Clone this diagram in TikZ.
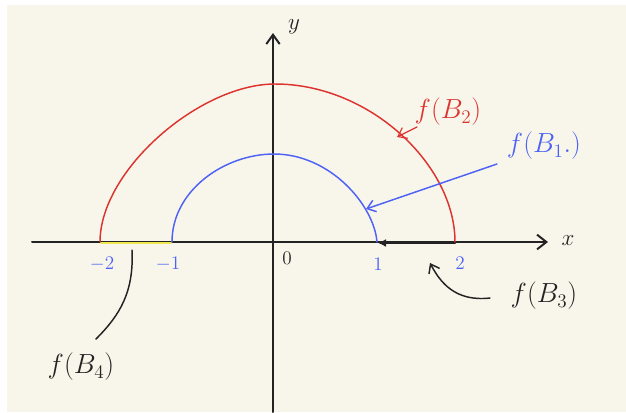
\documentclass[tikz,border=0pt]{standalone}
\usetikzlibrary{arrows.meta}
\definecolor{bg}{RGB}{248,246,235}
\definecolor{pen}{RGB}{35,35,35}
\definecolor{redpen}{RGB}{222,52,48}
\definecolor{bluepen}{RGB}{78,98,245}
\definecolor{yel}{RGB}{240,232,80}
\begin{document}
\begin{tikzpicture}[x=0.75pt,y=-0.75pt, line cap=round, line join=round,
  axis/.style={draw=pen, line width=1.5pt},
  curve/.style={line width=1.1pt},
  barb/.style={-{Straight Barb[length=6pt,width=9pt]}},
  biglabel/.style={inner sep=0pt, font=\fontsize{22}{26}\selectfont},
  ticklabel/.style={inner sep=0pt, text=bluepen, font=\fontsize{15}{17}\selectfont},
  axislabel/.style={inner sep=0pt, text=pen, font=\fontsize{16}{18}\selectfont}]
\fill[white] (0,0) rectangle (626,412);
\fill[bg] (7,5) rectangle (626,412);
\useasboundingbox (0,0) rectangle (626,412);

% axes
\coordinate (xs) at (32,242);
\coordinate (xe) at (548,242);
\coordinate (ys) at (273,412);
\coordinate (ye) at (273,33);
\draw[axis, -{Straight Barb[length=7pt,width=11pt]}] (xs) -- (xe);
\draw[axis, -{Straight Barb[length=7pt,width=10pt]}] (ys) -- (ye);
\node[axislabel] (xl) at (568,241) {$x$};
\node[axislabel] (yl) at (294,27) {$y$};

% image sets on the axis
\draw[yel, line width=1.5pt] (101,243) -- (171,243);
\draw[pen, line width=2pt] (385,243) -- (455,243);
\draw[pen, line width=1.2pt, -{Latex[length=6pt,width=6pt]}] (392,243) -- (378,243);

% semicircles
\draw[redpen, curve] (100,242) .. controls (100,170) and (200,84) .. (275,84)
  .. controls (370,84) and (455,165) .. (455,242);
\draw[bluepen, curve] (172,242) .. controls (172,190) and (225,154) .. (274,154)
  .. controls (330,154) and (374,205) .. (377,242);

% tick labels
\node[ticklabel] (m2) at (102,264) {$-2$};
\node[ticklabel] (m1) at (168,264) {$-1$};
\node[ticklabel] (p1) at (378,264) {$1$};
\node[ticklabel] (p2) at (460,263) {$2$};
\node[ticklabel, text=pen] (z0) at (287,258) {$0$};

% labels
\node[biglabel, text=redpen] (fb2) at (448,112) {$f(B_2)$};
\node[biglabel, text=bluepen] (fb1) at (544,146) {$f(B_1.)$};
\node[biglabel, text=pen] (fb3) at (544,296) {$f(B_3)$};
\node[biglabel, text=pen] (fb4) at (81,367) {$f(B_4)$};

% connectors
\coordinate (r2t) at (417,127);
\coordinate (r2h) at (397,137);
\draw[redpen, line width=0.9pt, barb] (r2t) -- (r2h);
\coordinate (b1t) at (497,164);
\coordinate (b1h) at (366,209);
\draw[bluepen, line width=1.1pt, barb] (b1t) -- (b1h);
\coordinate (b3t) at (490,298);
\coordinate (b3h) at (430,263);
\draw[pen, line width=1.1pt, barb] (b3t) .. controls (455,302) and (440,282) .. (b3h);
\coordinate (b4t) at (96,339);
\coordinate (b4h) at (132,250);
\draw[pen, line width=1.1pt] (b4t) .. controls (120,315) and (134,292) .. (b4h);
\end{tikzpicture}
\end{document}
